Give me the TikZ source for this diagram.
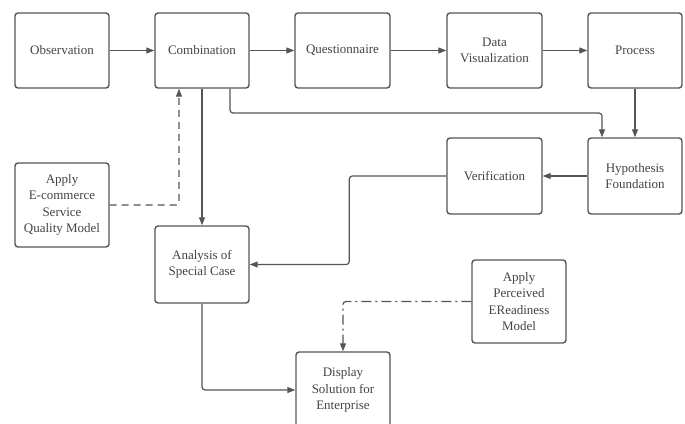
\documentclass[tikz,border=0pt]{standalone}
\usepackage{fontspec}
\setmainfont{Liberation Serif}
\usetikzlibrary{arrows.meta,calc}
\definecolor{ln}{HTML}{555555}
\definecolor{tx}{HTML}{444444}
\tikzset{
  box/.style={draw=ln, line width=1.4pt, rounded corners=3pt, fill=white,
    minimum width=94pt, minimum height=75pt, inner sep=0pt, align=center,
    text=tx, font=\fontsize{13}{16.5}\selectfont},
  conn/.style={draw=ln, line width=1.2pt, rounded corners=3pt,
    -{Triangle[length=8pt,width=6pt]}},
}
\begin{document}
\begin{tikzpicture}[x=1pt,y=-1pt]
\useasboundingbox (0,0) rectangle (685,423);
\clip (0,0) rectangle (685,423);
\fill[white] (0,0) rectangle (685,423);
\node[box] (obs) at (62,50.5) {Observation};
\node[box] (comb) at (202,50.5) {Combination};
\node[box, minimum width=95pt] (quest) at (342.5,50.5) {Questionnaire};
\node[box, minimum width=95pt] (data) at (494.5,50.5) {Data\\Visualization};
\node[box] (proc) at (635,50.5) {Process};
\node[box, minimum height=76pt] (hyp) at (635,176) {Hypothesis\\Foundation};
\node[box, minimum width=95pt, minimum height=76pt] (ver) at (494.5,176) {Verification};
\node[box, minimum height=84pt] (eco) at (62,205) {Apply\\E-commerce\\Service\\Quality Model};
\node[box, minimum height=77pt] (ana) at (202,264.5) {Analysis of\\Special Case};
\node[box, minimum height=83pt] (per) at (519,301.5) {Apply\\Perceived\\EReadiness\\Model};
\node[box, minimum height=76pt] (disp) at (343,390) {Display\\Solution for\\Enterprise};
\draw[conn] (obs.east) -- (comb.west);
\draw[conn] (comb.east) -- (quest.west);
\draw[conn] (quest.east) -- (data.west);
\draw[conn] (data.east) -- (proc.west);
\draw[conn] (proc.south) -- (hyp.north);
\draw[conn] ($(comb.south)+(28,0)$) |- (400,113) -| ($(hyp.north)+(-33,0)$);
\draw[conn] (comb.south) -- (ana.north);
\draw[conn, dash pattern=on 7pt off 5pt] (eco.east) -| ($(comb.south)+(-23,0)$);
\draw[conn] (hyp.west) -- (ver.east);
\draw[conn] (ver.west) -- ++(-97,0) |- (ana.east);
\draw[conn] (ana.south) |- (disp.west);
\draw[conn, dash pattern=on 10pt off 4pt on 2pt off 4pt] (per.west) -| (disp.north);
\end{tikzpicture}
\end{document}
